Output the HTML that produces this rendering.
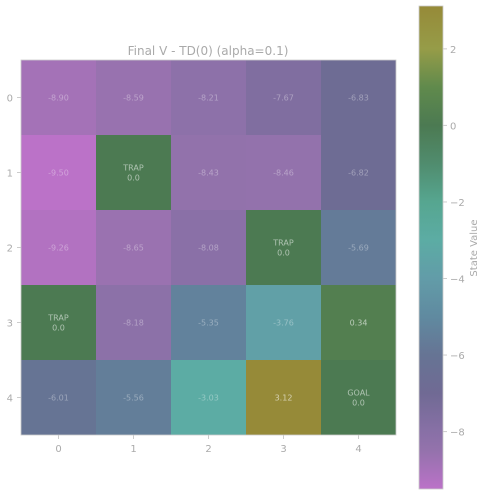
<!DOCTYPE html>
<html><head><meta charset="utf-8"><style>
body{margin:0;background:#fff;font-family:"Liberation Sans","DejaVu Sans",sans-serif}
svg text{font-family:"DejaVu Sans","Liberation Sans",sans-serif}
</style></head><body>
<svg id="c" width="486" height="496"></svg>
<script>
const rows=[0,1,2,3,4];
const cols=[0,1,2,3,4];
const values=[[-8.90,-8.59,-8.21,-7.67,-6.83],[-9.50,0.0,-8.43,-8.46,-6.82],[-9.26,-8.65,-8.08,0.0,-5.69],[0.0,-8.18,-5.35,-3.76,0.34],[-6.01,-5.56,-3.03,3.12,0.0]];
const labels=[["","","","",""],["","TRAP","","",""],["","","","TRAP",""],["TRAP","","","",""],["","","","","GOAL"]];
const cbTicks=[2,0,-2,-4,-6,-8];
const vmin=-9.50,vmax=3.12;
const stops=[[-9.5,[187,114,200]],[-8.5,[148,114,172]],[-8,[136,112,166]],[-7,[112,106,148]],[-6,[102,116,148]],[-5,[96,138,160]],[-4,[98,156,168]],[-3,[92,172,164]],[-2,[86,166,144]],[-1,[80,140,110]],[0,[76,122,82]],[1,[96,138,76]],[2,[150,156,72]],[3.12,[150,138,56]]];
function cmap(v){for(let i=0;i<stops.length-1;i++){const[a,ca]=stops[i],[b,cb]=stops[i+1];if(v<=b||i==stops.length-2){let t=Math.max(0,Math.min(1,(v-a)/(b-a)));return`rgb(${ca.map((c,k)=>Math.round(c+(cb[k]-c)*t)).join(',')})`;}}}
const svg=document.getElementById('c');const NS='http://www.w3.org/2000/svg';
function mk(t,a,p){const e=document.createElementNS(NS,t);for(const k in a)e.setAttribute(k,a[k]);(p||svg).appendChild(e);return e;}
const X0=21,Y0=60,CW=75;
const xs=c=>X0+c*CW, ys=r=>Y0+r*CW;
const t=mk('text',{x:208,y:55,'text-anchor':'middle','font-size':12,fill:'#aaa'});t.textContent='Final V - TD(0) (alpha=0.1)';


rows.forEach(r=>cols.forEach(c=>{const v=values[r][c];
 const rc=mk('rect',{x:xs(c),y:ys(r),width:CW,height:CW,fill:cmap(v)});
 
 
 const l=labels[r][c];
 if(l){const a=mk('text',{x:xs(c)+CW/2,y:ys(r)+CW/2-2,'text-anchor':'middle','font-size':8,fill:'rgba(255,255,255,0.55)'});a.textContent=l;
  
  
  const b=mk('text',{x:xs(c)+CW/2,y:ys(r)+CW/2+8,'text-anchor':'middle','font-size':8,fill:'rgba(255,255,255,0.55)'});b.textContent=v.toFixed(1);
  
  }
 else{const a=mk('text',{x:xs(c)+CW/2,y:ys(r)+CW/2+3,'text-anchor':'middle','font-size':8,fill:v>0?'rgba(255,255,255,0.6)':'rgba(255,255,255,0.35)'});a.textContent=v.toFixed(2);
  
  }
}));
mk('rect',{x:X0,y:Y0,width:CW*5,height:CW*5,fill:'none',stroke:'#ccc','stroke-width':0.8});
cols.forEach(c=>{mk('line',{x1:xs(c)+CW/2,x2:xs(c)+CW/2,y1:Y0+5*CW,y2:Y0+5*CW+4,stroke:'#ccc'});
 const e=mk('text',{x:xs(c)+CW/2,y:Y0+5*CW+17,'text-anchor':'middle','font-size':10,fill:'#aaa'});e.textContent=c;
 
 });
rows.forEach(r=>{mk('line',{x1:X0-4,x2:X0,y1:ys(r)+CW/2,y2:ys(r)+CW/2,stroke:'#ccc'});
 const e=mk('text',{x:X0-8,y:ys(r)+CW/2+4,'text-anchor':'end','font-size':10,fill:'#aaa'});e.textContent=r;
 
 });
// colorbar
const CX=419,CWd=24,CT=6,CB=489;const cy=v=>CT+(vmax-v)/(vmax-vmin)*(CB-CT);
const defs=mk('defs',{});const g=mk('linearGradient',{id:'cg',x1:0,y1:1,x2:0,y2:0},defs);
stops.forEach(s=>mk('stop',{offset:(s[0]-vmin)/(vmax-vmin),'stop-color':cmap(s[0])},g));
const cb=mk('rect',{x:CX,y:CT,width:CWd,height:CB-CT,fill:'url(#cg)',stroke:'#ccc','stroke-width':0.8});


cbTicks.forEach(v=>{mk('line',{x1:CX+CWd,x2:CX+CWd+4,y1:cy(v),y2:cy(v),stroke:'#ccc'});
 const e=mk('text',{x:CX+CWd+7,y:cy(v)+4,'font-size':10,fill:'#aaa'});e.textContent=v<0?'\u2212'+(-v):String(v);
 
 });
const ct=mk('text',{x:477,y:248,'text-anchor':'middle','font-size':10,fill:'#aaa',transform:'rotate(-90 477 248)'});ct.textContent='State Value';


</script>
</body></html>
